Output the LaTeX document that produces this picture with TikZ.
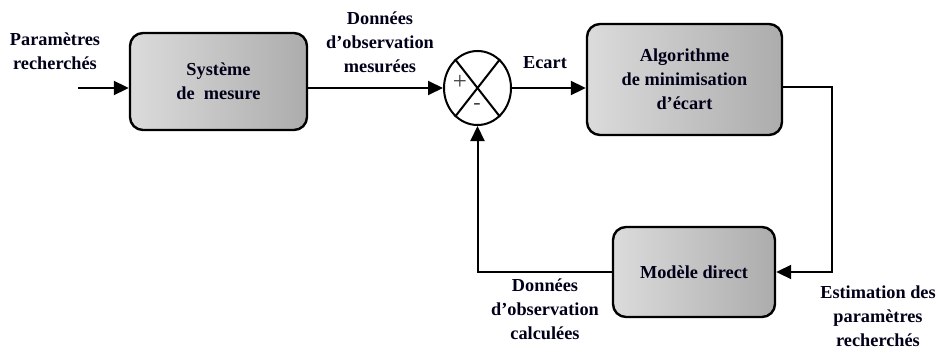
\documentclass[tikz,border=0pt]{standalone}
\usepackage{fontspec}
\setmainfont{Liberation Serif}
\usetikzlibrary{arrows.meta,shapes.geometric,calc}
\begin{document}
\begin{tikzpicture}[x=1pt,y=-1pt,
  txt/.style={font=\fontsize{18.3}{24}\selectfont\bfseries, text=black!90!blue, align=center, inner sep=0pt},
  blk/.style={txt, draw, line width=2.4pt, rounded corners=13pt, left color=gray!28, right color=gray!65},
  ln/.style={line width=2pt},
  arr/.style={ln, -{Triangle[length=15pt,width=14pt]}}]
\useasboundingbox (0,0) rectangle (939,353);
% blocks
\node[blk, minimum width=177pt, minimum height=97pt] (sys) at (218.5,81.5) {Système\\de\ \ mesure};
\node[blk, minimum width=195pt, minimum height=111pt] (alg) at (684.5,79.5) {Algorithme\\de minimisation\\d’écart};
\node[blk, minimum width=162pt, minimum height=90pt] (mod) at (694,272) {Modèle direct};
\node[ellipse, draw, line width=2pt, minimum width=67pt, minimum height=74pt, inner sep=0pt] (sum) at (477.5,88) {};
\draw[ln] (sum.128) -- (sum.308);
\draw[ln] (sum.52) -- (sum.232);
\node[font=\fontsize{25}{25}\selectfont, text=black!75, inner sep=0pt] (plus) at (460,82) {+};
\node[font=\fontsize{22}{22}\selectfont, text=black!75, inner sep=0pt] (minus) at (477,106) {-};
% labels
\node[txt] (lin) at (55,51) {Paramètres\\recherchés};
\node[txt] (lmes) at (380,42) {Données\\d’observation\\mesurées};
\node[txt] (lec) at (545,63) {Ecart};
\node[txt] (lcal) at (545,309) {Données\\d’observation\\calculées};
\node[txt] (lest) at (878,316) {Estimation des\\paramètres\\recherchés};
% connectors
\coordinate (in) at (78,88);
\coordinate (c1) at (832,87);
\draw[arr] (in) -- (in -| sys.west);
\draw[arr] (sum -| sys.east) -- (sum.west);
\draw[arr] (sum.east) -- (sum -| alg.west);
\draw[arr] (c1 -| alg.east) -- (c1) -- (c1 |- mod.east) -- (mod.east);
\draw[arr] (mod.west) -- (mod.west -| sum) -- (sum.south);
\end{tikzpicture}
\end{document}
